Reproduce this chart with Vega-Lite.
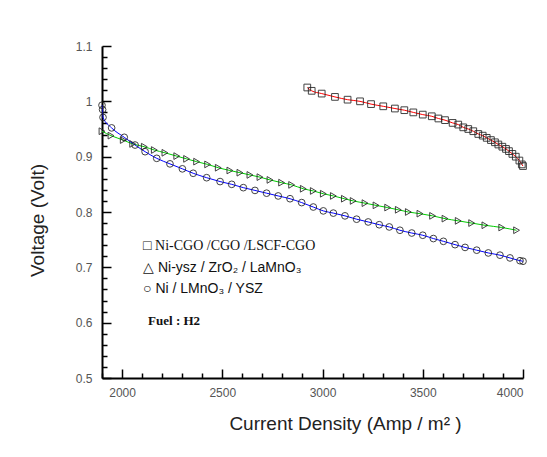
{
  "$schema": "https://vega.github.io/schema/vega-lite/v6.json",
  "autosize": "none",
  "width": 421,
  "height": 332,
  "padding": {"left": 102, "top": 46, "right": 24, "bottom": 79},
  "background": "white",
  "config": {
    "view": {"stroke": null},
    "axis": {
      "domainColor": "#000",
      "domainWidth": 2,
      "tickColor": "#000",
      "tickWidth": 1.5,
      "grid": false,
      "labelFont": "Liberation Sans",
      "labelFontSize": 12,
      "labelColor": "#555",
      "titleFont": "Liberation Sans",
      "titleFontSize": 19,
      "titleFontWeight": "normal",
      "titleColor": "#222"
    }
  },
  "datasets": {
    "curves": [
      {"s": "Ni-CGO /CGO /LSCF-CGO", "x": 2924, "y": 1.025},
      {"s": "Ni-CGO /CGO /LSCF-CGO", "x": 2946, "y": 1.019},
      {"s": "Ni-CGO /CGO /LSCF-CGO", "x": 2996, "y": 1.014},
      {"s": "Ni-CGO /CGO /LSCF-CGO", "x": 3062, "y": 1.008},
      {"s": "Ni-CGO /CGO /LSCF-CGO", "x": 3125, "y": 1.003},
      {"s": "Ni-CGO /CGO /LSCF-CGO", "x": 3187, "y": 1.0},
      {"s": "Ni-CGO /CGO /LSCF-CGO", "x": 3242, "y": 0.995},
      {"s": "Ni-CGO /CGO /LSCF-CGO", "x": 3303, "y": 0.991},
      {"s": "Ni-CGO /CGO /LSCF-CGO", "x": 3361, "y": 0.987},
      {"s": "Ni-CGO /CGO /LSCF-CGO", "x": 3408, "y": 0.984},
      {"s": "Ni-CGO /CGO /LSCF-CGO", "x": 3453, "y": 0.98},
      {"s": "Ni-CGO /CGO /LSCF-CGO", "x": 3500, "y": 0.976},
      {"s": "Ni-CGO /CGO /LSCF-CGO", "x": 3545, "y": 0.973},
      {"s": "Ni-CGO /CGO /LSCF-CGO", "x": 3578, "y": 0.969},
      {"s": "Ni-CGO /CGO /LSCF-CGO", "x": 3611, "y": 0.966},
      {"s": "Ni-CGO /CGO /LSCF-CGO", "x": 3649, "y": 0.961},
      {"s": "Ni-CGO /CGO /LSCF-CGO", "x": 3677, "y": 0.958},
      {"s": "Ni-CGO /CGO /LSCF-CGO", "x": 3702, "y": 0.953},
      {"s": "Ni-CGO /CGO /LSCF-CGO", "x": 3727, "y": 0.95},
      {"s": "Ni-CGO /CGO /LSCF-CGO", "x": 3752, "y": 0.946},
      {"s": "Ni-CGO /CGO /LSCF-CGO", "x": 3777, "y": 0.941},
      {"s": "Ni-CGO /CGO /LSCF-CGO", "x": 3799, "y": 0.938},
      {"s": "Ni-CGO /CGO /LSCF-CGO", "x": 3819, "y": 0.934},
      {"s": "Ni-CGO /CGO /LSCF-CGO", "x": 3840, "y": 0.93},
      {"s": "Ni-CGO /CGO /LSCF-CGO", "x": 3860, "y": 0.926},
      {"s": "Ni-CGO /CGO /LSCF-CGO", "x": 3877, "y": 0.922},
      {"s": "Ni-CGO /CGO /LSCF-CGO", "x": 3897, "y": 0.918},
      {"s": "Ni-CGO /CGO /LSCF-CGO", "x": 3915, "y": 0.914},
      {"s": "Ni-CGO /CGO /LSCF-CGO", "x": 3930, "y": 0.91},
      {"s": "Ni-CGO /CGO /LSCF-CGO", "x": 3947, "y": 0.905},
      {"s": "Ni-CGO /CGO /LSCF-CGO", "x": 3964, "y": 0.9},
      {"s": "Ni-CGO /CGO /LSCF-CGO", "x": 3982, "y": 0.893},
      {"s": "Ni-CGO /CGO /LSCF-CGO", "x": 3994, "y": 0.886},
      {"s": "Ni-CGO /CGO /LSCF-CGO", "x": 4000, "y": 0.883},

      {"s": "Ni-ysz / ZrO2 / LaMnO3", "x": 1900, "y": 0.946},
      {"s": "Ni-ysz / ZrO2 / LaMnO3", "x": 1945, "y": 0.938},
      {"s": "Ni-ysz / ZrO2 / LaMnO3", "x": 2006, "y": 0.93},
      {"s": "Ni-ysz / ZrO2 / LaMnO3", "x": 2053, "y": 0.923},
      {"s": "Ni-ysz / ZrO2 / LaMnO3", "x": 2111, "y": 0.918},
      {"s": "Ni-ysz / ZrO2 / LaMnO3", "x": 2161, "y": 0.912},
      {"s": "Ni-ysz / ZrO2 / LaMnO3", "x": 2214, "y": 0.907},
      {"s": "Ni-ysz / ZrO2 / LaMnO3", "x": 2273, "y": 0.901},
      {"s": "Ni-ysz / ZrO2 / LaMnO3", "x": 2322, "y": 0.896},
      {"s": "Ni-ysz / ZrO2 / LaMnO3", "x": 2372, "y": 0.891},
      {"s": "Ni-ysz / ZrO2 / LaMnO3", "x": 2427, "y": 0.886},
      {"s": "Ni-ysz / ZrO2 / LaMnO3", "x": 2480, "y": 0.88},
      {"s": "Ni-ysz / ZrO2 / LaMnO3", "x": 2538, "y": 0.875},
      {"s": "Ni-ysz / ZrO2 / LaMnO3", "x": 2588, "y": 0.871},
      {"s": "Ni-ysz / ZrO2 / LaMnO3", "x": 2638, "y": 0.867},
      {"s": "Ni-ysz / ZrO2 / LaMnO3", "x": 2688, "y": 0.863},
      {"s": "Ni-ysz / ZrO2 / LaMnO3", "x": 2738, "y": 0.858},
      {"s": "Ni-ysz / ZrO2 / LaMnO3", "x": 2796, "y": 0.853},
      {"s": "Ni-ysz / ZrO2 / LaMnO3", "x": 2846, "y": 0.849},
      {"s": "Ni-ysz / ZrO2 / LaMnO3", "x": 2904, "y": 0.842},
      {"s": "Ni-ysz / ZrO2 / LaMnO3", "x": 2954, "y": 0.838},
      {"s": "Ni-ysz / ZrO2 / LaMnO3", "x": 3004, "y": 0.833},
      {"s": "Ni-ysz / ZrO2 / LaMnO3", "x": 3054, "y": 0.829},
      {"s": "Ni-ysz / ZrO2 / LaMnO3", "x": 3109, "y": 0.824},
      {"s": "Ni-ysz / ZrO2 / LaMnO3", "x": 3153, "y": 0.82},
      {"s": "Ni-ysz / ZrO2 / LaMnO3", "x": 3212, "y": 0.816},
      {"s": "Ni-ysz / ZrO2 / LaMnO3", "x": 3267, "y": 0.812},
      {"s": "Ni-ysz / ZrO2 / LaMnO3", "x": 3325, "y": 0.808},
      {"s": "Ni-ysz / ZrO2 / LaMnO3", "x": 3378, "y": 0.804},
      {"s": "Ni-ysz / ZrO2 / LaMnO3", "x": 3428, "y": 0.8},
      {"s": "Ni-ysz / ZrO2 / LaMnO3", "x": 3486, "y": 0.797},
      {"s": "Ni-ysz / ZrO2 / LaMnO3", "x": 3549, "y": 0.793},
      {"s": "Ni-ysz / ZrO2 / LaMnO3", "x": 3611, "y": 0.788},
      {"s": "Ni-ysz / ZrO2 / LaMnO3", "x": 3677, "y": 0.784},
      {"s": "Ni-ysz / ZrO2 / LaMnO3", "x": 3744, "y": 0.78},
      {"s": "Ni-ysz / ZrO2 / LaMnO3", "x": 3810, "y": 0.776},
      {"s": "Ni-ysz / ZrO2 / LaMnO3", "x": 3894, "y": 0.772},
      {"s": "Ni-ysz / ZrO2 / LaMnO3", "x": 3968, "y": 0.767},

      {"s": "Ni / LMnO3 / YSZ", "x": 1900, "y": 0.993},
      {"s": "Ni / LMnO3 / YSZ", "x": 1903, "y": 0.985},
      {"s": "Ni / LMnO3 / YSZ", "x": 1905, "y": 0.971},
      {"s": "Ni / LMnO3 / YSZ", "x": 1948, "y": 0.952},
      {"s": "Ni / LMnO3 / YSZ", "x": 2011, "y": 0.935},
      {"s": "Ni / LMnO3 / YSZ", "x": 2065, "y": 0.921},
      {"s": "Ni / LMnO3 / YSZ", "x": 2115, "y": 0.909},
      {"s": "Ni / LMnO3 / YSZ", "x": 2173, "y": 0.897},
      {"s": "Ni / LMnO3 / YSZ", "x": 2239, "y": 0.887},
      {"s": "Ni / LMnO3 / YSZ", "x": 2301, "y": 0.878},
      {"s": "Ni / LMnO3 / YSZ", "x": 2355, "y": 0.87},
      {"s": "Ni / LMnO3 / YSZ", "x": 2422, "y": 0.862},
      {"s": "Ni / LMnO3 / YSZ", "x": 2489, "y": 0.855},
      {"s": "Ni / LMnO3 / YSZ", "x": 2547, "y": 0.85},
      {"s": "Ni / LMnO3 / YSZ", "x": 2605, "y": 0.844},
      {"s": "Ni / LMnO3 / YSZ", "x": 2663, "y": 0.839},
      {"s": "Ni / LMnO3 / YSZ", "x": 2721, "y": 0.834},
      {"s": "Ni / LMnO3 / YSZ", "x": 2779, "y": 0.829},
      {"s": "Ni / LMnO3 / YSZ", "x": 2838, "y": 0.824},
      {"s": "Ni / LMnO3 / YSZ", "x": 2896, "y": 0.817},
      {"s": "Ni / LMnO3 / YSZ", "x": 2954, "y": 0.809},
      {"s": "Ni / LMnO3 / YSZ", "x": 3004, "y": 0.802},
      {"s": "Ni / LMnO3 / YSZ", "x": 3054, "y": 0.798},
      {"s": "Ni / LMnO3 / YSZ", "x": 3112, "y": 0.793},
      {"s": "Ni / LMnO3 / YSZ", "x": 3170, "y": 0.787},
      {"s": "Ni / LMnO3 / YSZ", "x": 3228, "y": 0.782},
      {"s": "Ni / LMnO3 / YSZ", "x": 3283, "y": 0.777},
      {"s": "Ni / LMnO3 / YSZ", "x": 3333, "y": 0.773},
      {"s": "Ni / LMnO3 / YSZ", "x": 3386, "y": 0.767},
      {"s": "Ni / LMnO3 / YSZ", "x": 3445, "y": 0.762},
      {"s": "Ni / LMnO3 / YSZ", "x": 3500, "y": 0.758},
      {"s": "Ni / LMnO3 / YSZ", "x": 3553, "y": 0.752},
      {"s": "Ni / LMnO3 / YSZ", "x": 3603, "y": 0.747},
      {"s": "Ni / LMnO3 / YSZ", "x": 3661, "y": 0.741},
      {"s": "Ni / LMnO3 / YSZ", "x": 3711, "y": 0.736},
      {"s": "Ni / LMnO3 / YSZ", "x": 3769, "y": 0.731},
      {"s": "Ni / LMnO3 / YSZ", "x": 3827, "y": 0.726},
      {"s": "Ni / LMnO3 / YSZ", "x": 3885, "y": 0.722},
      {"s": "Ni / LMnO3 / YSZ", "x": 3935, "y": 0.717},
      {"s": "Ni / LMnO3 / YSZ", "x": 3985, "y": 0.712},
      {"s": "Ni / LMnO3 / YSZ", "x": 4000, "y": 0.711}
    ],
    "legend": [
      {"label": "□ Ni-CGO /CGO /LSCF-CGO", "k": "a"},
      {"label": "△ Ni-ysz / ZrO₂  / LaMnO₃", "k": "b"},
      {"label": "○ Ni / LMnO₃  / YSZ", "k": "c"},
      {"label": "Fuel : H2", "k": "d"}
    ]
  },
  "layer": [
    {
      "data": {"name": "curves"},
      "encoding": {
        "x": {
          "field": "x",
          "type": "quantitative",
          "scale": {"domain": [1900, 4000], "nice": false, "zero": false},
          "axis": {
            "title": "Current Density (Amp / m² )",
            "values": [1900,2000,2100,2200,2300,2400,2500,2600,2700,2800,2900,3000,3100,3200,3300,3400,3500,3600,3700,3800,3900,4000],
            "labelExpr": "datum.value % 500 == 0 ? format(datum.value, 'd') : ''",
            "tickSize": {"condition": {"test": "datum.value % 500 == 0", "value": -9}, "value": -5},
            "labelPadding": 18,
            "titlePadding": 16,
            "titleX": 243
          }
        },
        "y": {
          "field": "y",
          "type": "quantitative",
          "scale": {"domain": [0.5, 1.1], "nice": false, "zero": false},
          "axis": {
            "title": "Voltage (Volt)",
            "values": [0.5,0.52,0.54,0.56,0.58,0.6,0.62,0.64,0.66,0.68,0.7,0.72,0.74,0.76,0.78,0.8,0.82,0.84,0.86,0.88,0.9,0.92,0.94,0.96,0.98,1,1.02,1.04,1.06,1.08,1.1],
            "labelExpr": "abs(datum.value*10 - round(datum.value*10)) < 0.001 ? format(datum.value, '.1~f') : ''",
            "tickSize": {"condition": {"test": "abs(datum.value*10 - round(datum.value*10)) < 0.001", "value": -9}, "value": -5},
            "labelPadding": 19,
            "titlePadding": 28,
            "titleY": 174
          }
        }
      },
      "layer": [
        {
          "mark": {"type": "line", "strokeWidth": 1, "interpolate": "monotone"},
          "encoding": {
            "color": {
              "field": "s",
              "type": "nominal",
              "scale": {"domain": ["Ni-CGO /CGO /LSCF-CGO", "Ni-ysz / ZrO2 / LaMnO3", "Ni / LMnO3 / YSZ"], "range": ["#ff0000", "#00cc00", "#0000ff"]},
              "legend": null
            }
          }
        },
        {
          "mark": {"type": "point", "filled": false, "stroke": "#222", "strokeWidth": 1, "size": 45, "opacity": 0.85},
          "encoding": {
            "shape": {
              "field": "s",
              "type": "nominal",
              "scale": {"domain": ["Ni-CGO /CGO /LSCF-CGO", "Ni-ysz / ZrO2 / LaMnO3", "Ni / LMnO3 / YSZ"], "range": ["square", "triangle-right", "circle"]},
              "legend": null
            }
          }
        }
      ]
    },
    {
      "data": {"name": "legend"},
      "encoding": {
        "x": {
          "datum": 2105,
          "type": "quantitative",
          "scale": {"domain": [1900, 4000], "nice": false, "zero": false},
          "axis": {
            "title": "Current Density (Amp / m² )",
            "values": [1900,2000,2100,2200,2300,2400,2500,2600,2700,2800,2900,3000,3100,3200,3300,3400,3500,3600,3700,3800,3900,4000],
            "labelExpr": "datum.value % 500 == 0 ? format(datum.value, 'd') : ''",
            "tickSize": {"condition": {"test": "datum.value % 500 == 0", "value": -9}, "value": -5},
            "labelPadding": 18,
            "titlePadding": 16,
            "titleX": 243
          }
        },
        "y": {
          "datum": 0.738,
          "type": "quantitative",
          "scale": {"domain": [0.5, 1.1], "nice": false, "zero": false},
          "axis": {
            "title": "Voltage (Volt)",
            "values": [0.5,0.52,0.54,0.56,0.58,0.6,0.62,0.64,0.66,0.68,0.7,0.72,0.74,0.76,0.78,0.8,0.82,0.84,0.86,0.88,0.9,0.92,0.94,0.96,0.98,1,1.02,1.04,1.06,1.08,1.1],
            "labelExpr": "abs(datum.value*10 - round(datum.value*10)) < 0.001 ? format(datum.value, '.1~f') : ''",
            "tickSize": {"condition": {"test": "abs(datum.value*10 - round(datum.value*10)) < 0.001", "value": -9}, "value": -5},
            "labelPadding": 19,
            "titlePadding": 28,
            "titleY": 174
          }
        },
        "text": {"field": "label", "type": "nominal"}
      },
      "layer": [
        {
          "transform": [{"filter": "datum.k == 'a'"}],
          "mark": {"type": "text", "align": "left", "baseline": "middle", "font": "Liberation Serif", "fontSize": 14, "fill": "#111"}
        },
        {
          "transform": [{"filter": "datum.k == 'b'"}],
          "mark": {"type": "text", "align": "left", "baseline": "middle", "font": "Liberation Sans", "fontSize": 14, "fill": "#111", "dy": 22}
        },
        {
          "transform": [{"filter": "datum.k == 'c'"}],
          "mark": {"type": "text", "align": "left", "baseline": "middle", "font": "Liberation Sans", "fontSize": 14, "fill": "#111", "dy": 43}
        },
        {
          "transform": [{"filter": "datum.k == 'd'"}],
          "mark": {"type": "text", "align": "left", "baseline": "middle", "font": "Liberation Serif", "fontSize": 13, "fontWeight": "bold", "fill": "#111", "dx": 5, "dy": 75}
        }
      ]
    }
  ]
}
